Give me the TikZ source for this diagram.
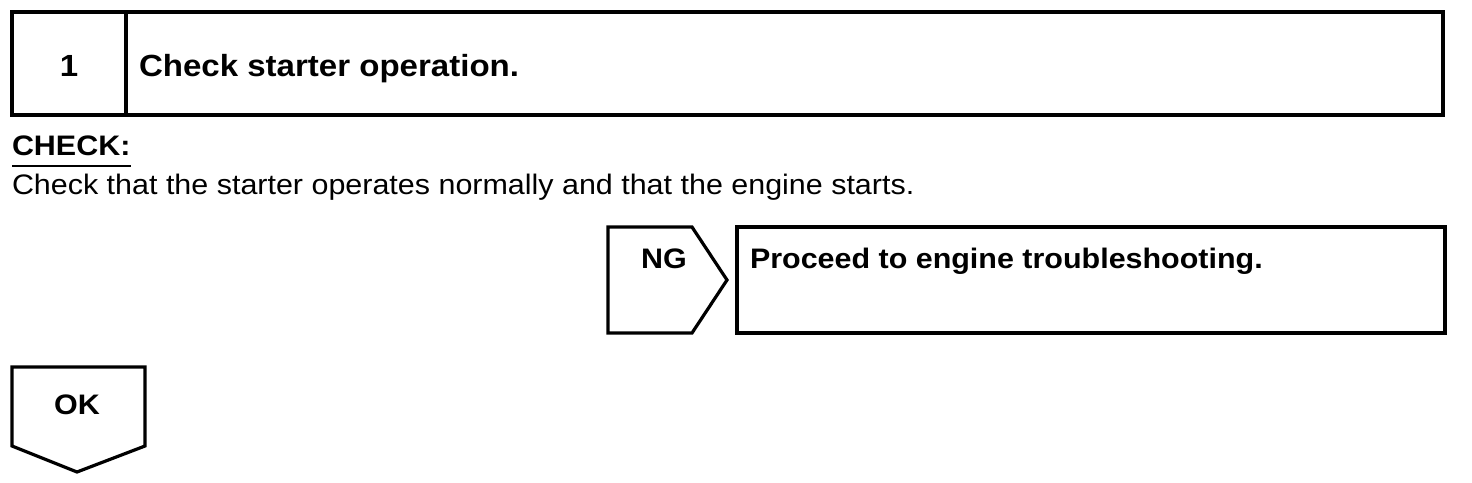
\documentclass[tikz,border=0pt]{standalone}
\usepackage{fontspec}
\usepackage{graphicx}
\setmainfont{Liberation Sans}
\newcommand\wx[1]{\scalebox{1.08}[1]{#1}}
\tikzset{
  frame/.style={draw=black, line width=1.6pt, line join=miter},
  txt/.style={inner sep=0pt, outer sep=0pt, anchor=base west},
  ctxt/.style={inner sep=0pt, outer sep=0pt, anchor=base},
  big/.style={font=\fontsize{15.3}{18}\selectfont\bfseries},
  norm/.style={font=\fontsize{14.1}{17}\selectfont},
  normb/.style={font=\fontsize{14.1}{17}\selectfont\bfseries}
}
\begin{document}
\begin{tikzpicture}[x=0.5pt, y=-0.5pt]
\useasboundingbox (0,0) rectangle (1472,482);
% title box
\draw[frame] (12,12) rectangle (1443,115);
\draw[frame] (126,12) -- (126,115);
\node[ctxt, big] (num) at (69,76) {\wx{1}};
\node[txt, big] (title) at (139,76) {\wx{Check starter operation.}};
% check text
\node[txt, normb] (chk) at (12,155) {\wx{CHECK:}};
\draw[line width=1pt] (12,166) -- (131,166);
\node[txt, norm] (body) at (12,194) {\wx{Check that the starter operates normally and that the engine starts.}};
% NG chevron
\draw[frame] (608,227) -- (692,227) -- (727,280) -- (692,333) -- (608,333) -- cycle;
\node[ctxt, normb] (ng) at (664,268) {\wx{NG}};
\draw[frame] (737,227) rectangle (1445,333);
\node[txt, normb] (proc) at (750,268) {\wx{Proceed to engine troubleshooting.}};
% OK pentagon
\draw[frame] (12,367) -- (145,367) -- (145,446) -- (77,472) -- (12,446) -- cycle;
\node[ctxt, normb] (ok) at (77,414) {\wx{OK}};
\end{tikzpicture}
\end{document}
